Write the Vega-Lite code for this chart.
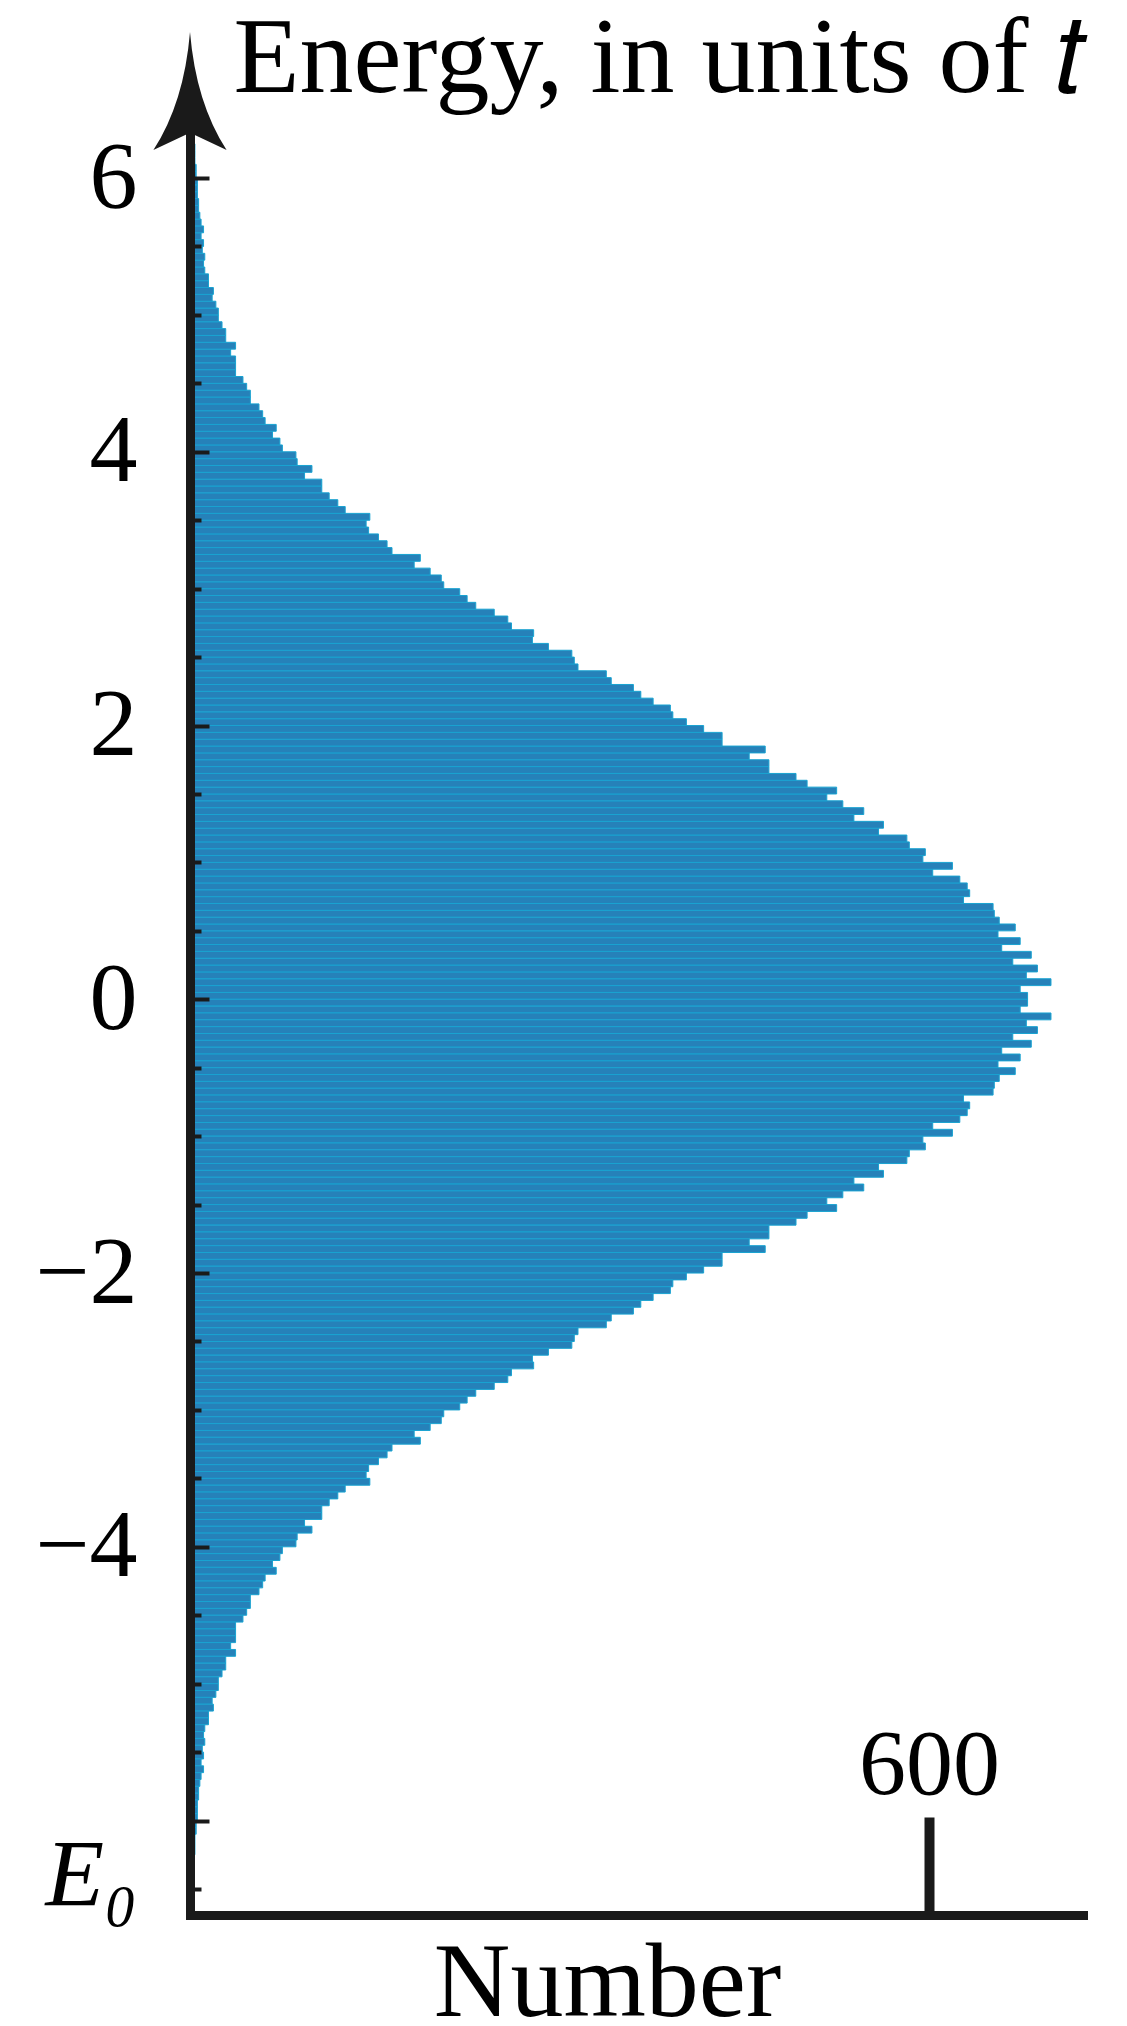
{
  "$schema": "https://vega.github.io/schema/vega-lite/v6.json",
  "autosize": {"type": "none"},
  "padding": {"left": 190, "top": 133, "right": 44, "bottom": 111},
  "width": 893,
  "height": 1782,
  "background": "white",
  "config": {"view": {"stroke": null}},
  "layer": [
    {
      "data": {"values": [
        {"a":0,"b":0.05,"n":680},{"a":0.05,"b":0.1,"n":674},{"a":0.1,"b":0.15,"n":699},{"a":0.15,"b":0.2,"n":679},{"a":0.2,"b":0.25,"n":688},{"a":0.25,"b":0.3,"n":668},{"a":0.3,"b":0.35,"n":683},{"a":0.35,"b":0.4,"n":659},{"a":0.4,"b":0.45,"n":674},{"a":0.45,"b":0.5,"n":656},
        {"a":0.5,"b":0.55,"n":670},{"a":0.55,"b":0.6,"n":657},{"a":0.6,"b":0.65,"n":653},{"a":0.65,"b":0.7,"n":652},{"a":0.7,"b":0.75,"n":628},{"a":0.75,"b":0.8,"n":633},{"a":0.8,"b":0.85,"n":631},{"a":0.85,"b":0.9,"n":625},{"a":0.9,"b":0.95,"n":603},{"a":0.95,"b":1,"n":619},
        {"a":1,"b":1.05,"n":595},{"a":1.05,"b":1.1,"n":597},{"a":1.1,"b":1.15,"n":584},{"a":1.15,"b":1.2,"n":582},{"a":1.2,"b":1.25,"n":559},{"a":1.25,"b":1.3,"n":563},{"a":1.3,"b":1.35,"n":539},{"a":1.35,"b":1.4,"n":547},{"a":1.4,"b":1.45,"n":530},{"a":1.45,"b":1.5,"n":517},
        {"a":1.5,"b":1.55,"n":525},{"a":1.55,"b":1.6,"n":501},{"a":1.6,"b":1.65,"n":492},{"a":1.65,"b":1.7,"n":470},{"a":1.7,"b":1.75,"n":470},{"a":1.75,"b":1.8,"n":454},{"a":1.8,"b":1.85,"n":467},{"a":1.85,"b":1.9,"n":432},{"a":1.9,"b":1.95,"n":432},{"a":1.95,"b":2,"n":417},
        {"a":2,"b":2.05,"n":403},{"a":2.05,"b":2.1,"n":392},{"a":2.1,"b":2.15,"n":390},{"a":2.15,"b":2.2,"n":376},{"a":2.2,"b":2.25,"n":366},{"a":2.25,"b":2.3,"n":360},{"a":2.3,"b":2.35,"n":342},{"a":2.35,"b":2.4,"n":338},{"a":2.4,"b":2.45,"n":315},{"a":2.45,"b":2.5,"n":312},
        {"a":2.5,"b":2.55,"n":310},{"a":2.55,"b":2.6,"n":291},{"a":2.6,"b":2.65,"n":278},{"a":2.65,"b":2.7,"n":279},{"a":2.7,"b":2.75,"n":261},{"a":2.75,"b":2.8,"n":258},{"a":2.8,"b":2.85,"n":247},{"a":2.85,"b":2.9,"n":232},{"a":2.9,"b":2.95,"n":225},{"a":2.95,"b":3,"n":219},
        {"a":3,"b":3.05,"n":206},{"a":3.05,"b":3.1,"n":204},{"a":3.1,"b":3.15,"n":195},{"a":3.15,"b":3.2,"n":182},{"a":3.2,"b":3.25,"n":187},{"a":3.25,"b":3.3,"n":164},{"a":3.3,"b":3.35,"n":160},{"a":3.35,"b":3.4,"n":153},{"a":3.4,"b":3.45,"n":145},{"a":3.45,"b":3.5,"n":143},
        {"a":3.5,"b":3.55,"n":146},{"a":3.55,"b":3.6,"n":126},{"a":3.6,"b":3.65,"n":120},{"a":3.65,"b":3.7,"n":113},{"a":3.7,"b":3.75,"n":107},{"a":3.75,"b":3.8,"n":107},{"a":3.8,"b":3.85,"n":93},{"a":3.85,"b":3.9,"n":99},{"a":3.9,"b":3.95,"n":87},{"a":3.95,"b":4,"n":86},
        {"a":4,"b":4.05,"n":75},{"a":4.05,"b":4.1,"n":73},{"a":4.1,"b":4.15,"n":67},{"a":4.15,"b":4.2,"n":70},{"a":4.2,"b":4.25,"n":61},{"a":4.25,"b":4.3,"n":59},{"a":4.3,"b":4.35,"n":56},{"a":4.35,"b":4.4,"n":49},{"a":4.4,"b":4.45,"n":49},{"a":4.45,"b":4.5,"n":46},
        {"a":4.5,"b":4.55,"n":43},{"a":4.55,"b":4.6,"n":37},{"a":4.6,"b":4.65,"n":37},{"a":4.65,"b":4.7,"n":37},{"a":4.7,"b":4.75,"n":33},{"a":4.75,"b":4.8,"n":37},{"a":4.8,"b":4.85,"n":29},{"a":4.85,"b":4.9,"n":29},{"a":4.9,"b":4.95,"n":26},{"a":4.95,"b":5,"n":23},
        {"a":5,"b":5.05,"n":23},{"a":5.05,"b":5.1,"n":21},{"a":5.1,"b":5.15,"n":18},{"a":5.15,"b":5.2,"n":19},{"a":5.2,"b":5.25,"n":15},{"a":5.25,"b":5.3,"n":15},{"a":5.3,"b":5.35,"n":12},{"a":5.35,"b":5.4,"n":11},{"a":5.4,"b":5.45,"n":12},{"a":5.45,"b":5.5,"n":10},
        {"a":5.5,"b":5.55,"n":11},{"a":5.55,"b":5.6,"n":9},{"a":5.6,"b":5.65,"n":11},{"a":5.65,"b":5.7,"n":9},{"a":5.7,"b":5.75,"n":8},{"a":5.75,"b":5.8,"n":7},{"a":5.8,"b":5.85,"n":7},{"a":5.85,"b":5.9,"n":6},{"a":5.9,"b":5.95,"n":6},{"a":5.95,"b":6,"n":6},
        {"a":6,"b":6.05,"n":5},{"a":6.05,"b":6.1,"n":5},{"a":6.1,"b":6.15,"n":4},{"a":6.15,"b":6.2,"n":4},{"a":6.2,"b":6.25,"n":4},{"a":6.25,"b":6.3,"n":3},{"a":6.3,"b":6.35,"n":3},{"a":6.35,"b":6.4,"n":3},{"a":6.4,"b":6.45,"n":2},{"a":6.45,"b":6.5,"n":2},
        {"a":-0.05,"b":0,"n":680},{"a":-0.1,"b":-0.05,"n":674},{"a":-0.15,"b":-0.1,"n":699},{"a":-0.2,"b":-0.15,"n":679},{"a":-0.25,"b":-0.2,"n":688},{"a":-0.3,"b":-0.25,"n":668},{"a":-0.35,"b":-0.3,"n":683},{"a":-0.4,"b":-0.35,"n":659},{"a":-0.45,"b":-0.4,"n":674},{"a":-0.5,"b":-0.45,"n":656},
        {"a":-0.55,"b":-0.5,"n":670},{"a":-0.6,"b":-0.55,"n":657},{"a":-0.65,"b":-0.6,"n":653},{"a":-0.7,"b":-0.65,"n":652},{"a":-0.75,"b":-0.7,"n":628},{"a":-0.8,"b":-0.75,"n":633},{"a":-0.85,"b":-0.8,"n":631},{"a":-0.9,"b":-0.85,"n":625},{"a":-0.95,"b":-0.9,"n":603},{"a":-1,"b":-0.95,"n":619},
        {"a":-1.05,"b":-1,"n":595},{"a":-1.1,"b":-1.05,"n":597},{"a":-1.15,"b":-1.1,"n":584},{"a":-1.2,"b":-1.15,"n":582},{"a":-1.25,"b":-1.2,"n":559},{"a":-1.3,"b":-1.25,"n":563},{"a":-1.35,"b":-1.3,"n":539},{"a":-1.4,"b":-1.35,"n":547},{"a":-1.45,"b":-1.4,"n":530},{"a":-1.5,"b":-1.45,"n":517},
        {"a":-1.55,"b":-1.5,"n":525},{"a":-1.6,"b":-1.55,"n":501},{"a":-1.65,"b":-1.6,"n":492},{"a":-1.7,"b":-1.65,"n":470},{"a":-1.75,"b":-1.7,"n":470},{"a":-1.8,"b":-1.75,"n":454},{"a":-1.85,"b":-1.8,"n":467},{"a":-1.9,"b":-1.85,"n":432},{"a":-1.95,"b":-1.9,"n":432},{"a":-2,"b":-1.95,"n":417},
        {"a":-2.05,"b":-2,"n":403},{"a":-2.1,"b":-2.05,"n":392},{"a":-2.15,"b":-2.1,"n":390},{"a":-2.2,"b":-2.15,"n":376},{"a":-2.25,"b":-2.2,"n":366},{"a":-2.3,"b":-2.25,"n":360},{"a":-2.35,"b":-2.3,"n":342},{"a":-2.4,"b":-2.35,"n":338},{"a":-2.45,"b":-2.4,"n":315},{"a":-2.5,"b":-2.45,"n":312},
        {"a":-2.55,"b":-2.5,"n":310},{"a":-2.6,"b":-2.55,"n":291},{"a":-2.65,"b":-2.6,"n":278},{"a":-2.7,"b":-2.65,"n":279},{"a":-2.75,"b":-2.7,"n":261},{"a":-2.8,"b":-2.75,"n":258},{"a":-2.85,"b":-2.8,"n":247},{"a":-2.9,"b":-2.85,"n":232},{"a":-2.95,"b":-2.9,"n":225},{"a":-3,"b":-2.95,"n":219},
        {"a":-3.05,"b":-3,"n":206},{"a":-3.1,"b":-3.05,"n":204},{"a":-3.15,"b":-3.1,"n":195},{"a":-3.2,"b":-3.15,"n":182},{"a":-3.25,"b":-3.2,"n":187},{"a":-3.3,"b":-3.25,"n":164},{"a":-3.35,"b":-3.3,"n":160},{"a":-3.4,"b":-3.35,"n":153},{"a":-3.45,"b":-3.4,"n":145},{"a":-3.5,"b":-3.45,"n":143},
        {"a":-3.55,"b":-3.5,"n":146},{"a":-3.6,"b":-3.55,"n":126},{"a":-3.65,"b":-3.6,"n":120},{"a":-3.7,"b":-3.65,"n":113},{"a":-3.75,"b":-3.7,"n":107},{"a":-3.8,"b":-3.75,"n":107},{"a":-3.85,"b":-3.8,"n":93},{"a":-3.9,"b":-3.85,"n":99},{"a":-3.95,"b":-3.9,"n":87},{"a":-4,"b":-3.95,"n":86},
        {"a":-4.05,"b":-4,"n":75},{"a":-4.1,"b":-4.05,"n":73},{"a":-4.15,"b":-4.1,"n":67},{"a":-4.2,"b":-4.15,"n":70},{"a":-4.25,"b":-4.2,"n":61},{"a":-4.3,"b":-4.25,"n":59},{"a":-4.35,"b":-4.3,"n":56},{"a":-4.4,"b":-4.35,"n":49},{"a":-4.45,"b":-4.4,"n":49},{"a":-4.5,"b":-4.45,"n":46},
        {"a":-4.55,"b":-4.5,"n":43},{"a":-4.6,"b":-4.55,"n":37},{"a":-4.65,"b":-4.6,"n":37},{"a":-4.7,"b":-4.65,"n":37},{"a":-4.75,"b":-4.7,"n":33},{"a":-4.8,"b":-4.75,"n":37},{"a":-4.85,"b":-4.8,"n":29},{"a":-4.9,"b":-4.85,"n":29},{"a":-4.95,"b":-4.9,"n":26},{"a":-5,"b":-4.95,"n":23},
        {"a":-5.05,"b":-5,"n":23},{"a":-5.1,"b":-5.05,"n":21},{"a":-5.15,"b":-5.1,"n":18},{"a":-5.2,"b":-5.15,"n":19},{"a":-5.25,"b":-5.2,"n":15},{"a":-5.3,"b":-5.25,"n":15},{"a":-5.35,"b":-5.3,"n":12},{"a":-5.4,"b":-5.35,"n":11},{"a":-5.45,"b":-5.4,"n":12},{"a":-5.5,"b":-5.45,"n":10},
        {"a":-5.55,"b":-5.5,"n":11},{"a":-5.6,"b":-5.55,"n":9},{"a":-5.65,"b":-5.6,"n":11},{"a":-5.7,"b":-5.65,"n":9},{"a":-5.75,"b":-5.7,"n":8},{"a":-5.8,"b":-5.75,"n":7},{"a":-5.85,"b":-5.8,"n":7},{"a":-5.9,"b":-5.85,"n":6},{"a":-5.95,"b":-5.9,"n":6},{"a":-6,"b":-5.95,"n":6},
        {"a":-6.05,"b":-6,"n":5},{"a":-6.1,"b":-6.05,"n":5},{"a":-6.15,"b":-6.1,"n":4},{"a":-6.2,"b":-6.15,"n":4},{"a":-6.25,"b":-6.2,"n":4},{"a":-6.3,"b":-6.25,"n":3},{"a":-6.35,"b":-6.3,"n":3},{"a":-6.4,"b":-6.35,"n":3},{"a":-6.45,"b":-6.4,"n":2},{"a":-6.5,"b":-6.45,"n":2}
      ]},
      "mark": {"type": "rect", "fill": "#2681b9", "stroke": "#19a3d1", "strokeWidth": 1, "clip": true},
      "encoding": {
        "x": {"field": "n", "type": "quantitative",
          "scale": {"domain": [0, 725], "nice": false, "zero": false},
          "axis": {
            "values": [600],
            "grid": false,
            "zindex": 1,
            "domainColor": "#1a1a1a", "domainWidth": 9, "domainCap": "square",
            "tickColor": "#1a1a1a", "tickWidth": 10, "tickSize": -98,
            "labelFont": "Liberation Serif", "labelFontSize": 94, "labelColor": "#000000",
            "labelBaseline": "alphabetic", "labelPadding": -24,
            "title": "Number",
            "titleFont": "Liberation Serif", "titleFontSize": 106, "titleFontWeight": "normal", "titleColor": "#000000",
            "titleAlign": "center", "titleBaseline": "alphabetic", "titleX": 417, "titleY": 100
          }
        },
        "x2": {"datum": 0},
        "y": {"field": "a", "type": "quantitative",
          "scale": {"domain": [-6.69, 6.329], "nice": false, "zero": false},
          "axis": {
            "values": [-6.5,-6,-5.5,-5,-4.5,-4,-3.5,-3,-2.5,-2,-1.5,-1,-0.5,0,0.5,1,1.5,2,2.5,3,3.5,4,4.5,5,5.5,6],
            "grid": false,
            "zindex": 1,
            "domainColor": "#1a1a1a", "domainWidth": 9, "domainCap": "square",
            "tickColor": "#1a1a1a", "tickWidth": 4,
            "tickSize": {"condition": {"test": "datum.value % 2 == 0", "value": -19}, "value": -11},
            "labelExpr": "datum.value == -6.5 ? 'E₀' : ((datum.value % 2 == 0 && datum.value > -5) ? (datum.value < 0 ? '−' + abs(datum.value) : '' + datum.value) : '')",
            "labelFont": "Liberation Serif", "labelFontSize": 96, "labelColor": "#000000",
            "labelFontStyle": {"condition": {"test": "datum.value == -6.5", "value": "italic"}, "value": "normal"},
            "labelBaseline": "middle", "labelAlign": "right",
            "labelOffset": {"condition": {"test": "datum.value == -6.5", "value": -12}, "value": 0},
            "labelPadding": {"condition": {"test": "datum.value % 2 == 0", "value": 72}, "value": 64},
            "labelOverlap": false, "labelBound": false,
            "title": "Energy, in units of 𝑡",
            "titleFont": "Liberation Serif", "titleFontSize": 108, "titleFontWeight": "normal", "titleColor": "#000000",
            "titleAngle": 0, "titleAlign": "left", "titleBaseline": "alphabetic", "titleX": 43, "titleY": -42
          }
        },
        "y2": {"field": "b"}
      }
    },
    {
      "data": {"values": [{"n": 0, "a": 6.636}]},
      "mark": {"type": "point", "filled": true, "opacity": 1, "fill": "#1a1a1a", "strokeWidth": 0,
        "shape": "M0,-1 Q0.1,0.2 0.62,1 L0,0.71 L-0.62,1 Q-0.1,0.2 0,-1 Z", "size": 13924},
      "encoding": {
        "x": {"field": "n", "type": "quantitative"},
        "y": {"field": "a", "type": "quantitative"}
      }
    }
  ]
}
